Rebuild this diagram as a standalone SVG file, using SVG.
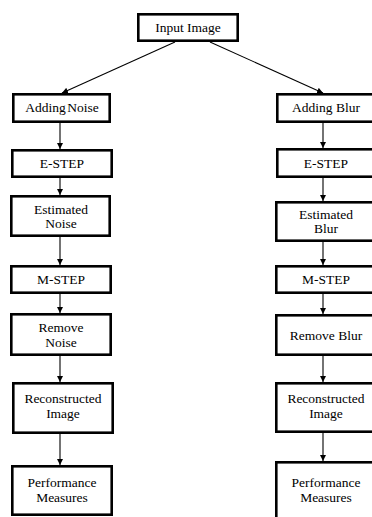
<svg xmlns="http://www.w3.org/2000/svg" width="372" height="517" viewBox="0 0 372 517">
<defs>
<style>
.box{fill:#fff;stroke:#000;stroke-width:2.6}
.t{font-size:13.5px;fill:#000;text-anchor:middle}
.c{stroke:#000;stroke-width:1.1;fill:none;marker-end:url(#ah)}
</style>
<marker id="ah" viewBox="0 0 10 10" refX="10" refY="5" markerWidth="6" markerHeight="6" markerUnits="userSpaceOnUse" orient="auto">
<path d="M0,0 L10,5 L0,10 z" fill="#000"/>
</marker>
</defs>
<rect width="372" height="517" fill="#fff"/>
<g id="connectors">
<line class="c" x1="175" y1="42" x2="62" y2="93"/>
<line class="c" x1="210" y1="42" x2="323" y2="93"/>
<line class="c" x1="60" y1="123" x2="60" y2="149"/>
<line class="c" x1="60" y1="178" x2="60" y2="195"/>
<line class="c" x1="60" y1="237" x2="60" y2="265"/>
<line class="c" x1="60" y1="294" x2="60" y2="313"/>
<line class="c" x1="60" y1="356" x2="60" y2="382"/>
<line class="c" x1="60" y1="434" x2="60" y2="465"/>
<line class="c" x1="323" y1="123" x2="323" y2="148"/>
<line class="c" x1="323" y1="178" x2="323" y2="201"/>
<line class="c" x1="323" y1="242" x2="323" y2="265"/>
<line class="c" x1="323" y1="294" x2="323" y2="314"/>
<line class="c" x1="323" y1="356" x2="323" y2="382"/>
<line class="c" x1="323" y1="433" x2="323" y2="461"/>
</g>
<g font-family="Liberation Serif, DejaVu Serif, serif">
<g id="input"><rect class="box" x="138.3" y="14.3" width="99.4" height="26.4"/><text class="t" x="188" y="31.5">Input Image</text></g>
<g id="addnoise"><rect class="box" x="13.3" y="94.3" width="96.4" height="27.4"/><text class="t" x="62" y="112" word-spacing="-2">Adding Noise</text></g>
<g id="estep1"><rect class="box" x="12.3" y="150.3" width="99.4" height="26.4"/><text class="t" x="62" y="168">E-STEP</text></g>
<g id="estnoise"><rect class="box" x="11.3" y="196.3" width="98.4" height="39.4"/><text class="t" x="61" y="213.5">Estimated</text><text class="t" x="61" y="227.5">Noise</text></g>
<g id="mstep1"><rect class="box" x="11.3" y="266.3" width="99.4" height="26.4"/><text class="t" x="61" y="284">M-STEP</text></g>
<g id="removenoise"><rect class="box" x="11.3" y="314.3" width="99.4" height="40.4"/><text class="t" x="61" y="331.5">Remove</text><text class="t" x="61" y="346.5">Noise</text></g>
<g id="recon1"><rect class="box" x="13.3" y="383.3" width="99.4" height="49.4"/><text class="t" x="63" y="402.5">Reconstructed</text><text class="t" x="63" y="417.5">Image</text></g>
<g id="perf1"><rect class="box" x="12.3" y="466.3" width="99.4" height="48.4"/><text class="t" x="62" y="487">Performance</text><text class="t" x="62" y="502">Measures</text></g>
<g id="addblur"><rect class="box" x="277.3" y="94.3" width="100" height="27.4"/><text class="t" x="326" y="112">Adding Blur</text></g>
<g id="estep2"><rect class="box" x="277.3" y="149.3" width="100" height="27.4"/><text class="t" x="326" y="168">E-STEP</text></g>
<g id="estblur"><rect class="box" x="276.3" y="202.3" width="100" height="38.4"/><text class="t" x="326" y="219">Estimated</text><text class="t" x="326" y="233">Blur</text></g>
<g id="mstep2"><rect class="box" x="276.3" y="266.3" width="100" height="26.4"/><text class="t" x="326" y="284">M-STEP</text></g>
<g id="removeblur"><rect class="box" x="276.3" y="315.3" width="100" height="39.4"/><text class="t" x="326" y="339.5">Remove Blur</text></g>
<g id="recon2"><rect class="box" x="276.3" y="383.3" width="100" height="48.4"/><text class="t" x="326" y="402.5">Reconstructed</text><text class="t" x="326" y="417.5">Image</text></g>
<g id="perf2"><rect class="box" x="276.3" y="462.3" width="100" height="60"/><text class="t" x="326" y="487">Performance</text><text class="t" x="326" y="502">Measures</text></g>
</g>
</svg>
